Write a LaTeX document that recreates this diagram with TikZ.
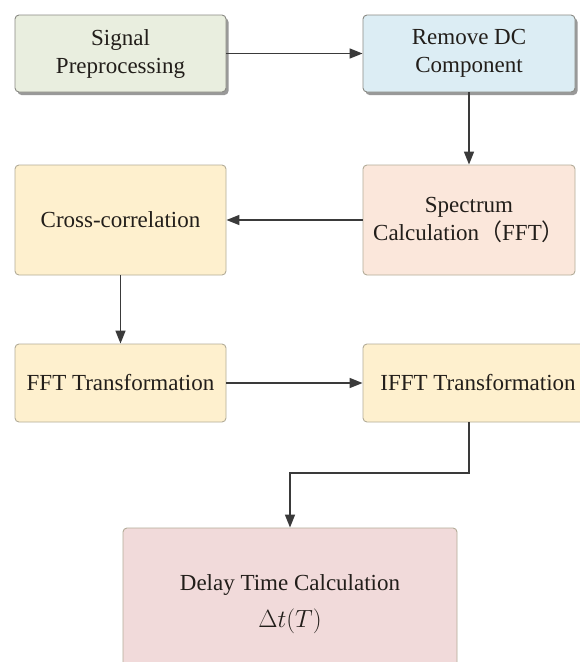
\documentclass[tikz,border=0pt]{standalone}
\usepackage{fontspec}
\setmainfont{Liberation Serif}
\newfontfamily\cjkfont{Noto Sans CJK SC}
\usetikzlibrary{arrows.meta,shadows}
\definecolor{fillgreen}{HTML}{E9EEDF}
\definecolor{fillblue}{HTML}{DCEDF4}
\definecolor{fillpeach}{HTML}{FBE7DB}
\definecolor{fillyellow}{HTML}{FEF0CE}
\definecolor{fillpink}{HTML}{F1DADA}
\definecolor{bordergray}{HTML}{8A8A84}
\definecolor{bordertan}{HTML}{B3AC98}
\definecolor{linec}{HTML}{3A3A3A}
\definecolor{textc}{HTML}{221E1A}
\begin{document}
\begin{tikzpicture}[x=1pt,y=-1pt,
  box/.style={draw=bordertan, line width=0.9pt, rounded corners=4pt, align=center,
    inner sep=0pt, text=textc, font=\fontsize{23}{28}\selectfont},
  shadowbox/.style={box, draw=bordergray,
    drop shadow={shadow xshift=2.5pt, shadow yshift=-3pt, fill=black!50, opacity=0.8}},
  arr/.style={draw=linec, line width=1.5pt, -{Triangle[length=13pt,width=10pt]}}]
\clip (0,0) rectangle (580,662);
\fill[white] (0,0) rectangle (580,662);

\node[shadowbox, fill=fillgreen, minimum width=211pt, minimum height=77pt] (sig) at (120.5,53.5)
  {Signal\\Preprocessing};
\node[shadowbox, fill=fillblue, minimum width=212pt, minimum height=77pt] (rdc) at (469,53.5)
  {Remove DC\\Component};
\node[box, fill=fillpeach, minimum width=212pt, minimum height=110pt] (spec) at (469,220)
  {Spectrum\\Calculation{\cjkfont （}FFT{\cjkfont ）}};
\node[box, fill=fillyellow, minimum width=211pt, minimum height=110pt] (xcor) at (120.5,220)
  {Cross-correlation};
\node[box, fill=fillyellow, minimum width=211pt, minimum height=78pt] (fft) at (120.5,383)
  {FFT Transformation};
\node[box, fill=fillyellow, minimum width=230pt, minimum height=78pt] (ifft) at (478,383)
  {IFFT Transformation};
\node[box, fill=fillpink, minimum width=334pt, minimum height=152pt] (delay) at (290,604)
  {Delay Time Calculation\\[9pt]{\fontsize{27}{30}\selectfont$\Delta t(T)$}};

\coordinate (bend1) at (469,473);
\coordinate (bend2) at (delay.north |- bend1);

\draw[arr] (sig) -- (rdc);
\draw[arr] (rdc) -- (spec);
\draw[arr] (spec) -- (xcor);
\draw[arr] (xcor) -- (fft);
\draw[arr] (fft.east) -- (ifft.west);
\draw[arr] (ifft.south -| spec.south) -- (bend1) -- (bend2) -- (delay.north);
\end{tikzpicture}
\end{document}
